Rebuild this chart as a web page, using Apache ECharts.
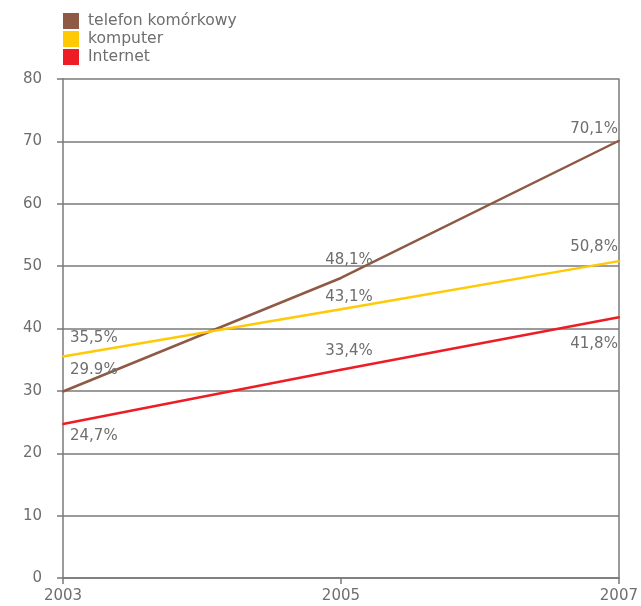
<!DOCTYPE html>
<html>
<head>
<meta charset="utf-8">
<script src="https://cdn.jsdelivr.net/npm/echarts@6/dist/echarts.min.js"></script>
<style>html,body{margin:0;padding:0;background:#fff}#c{width:641px;height:606px}</style>
</head>
<body>
<div id="c"></div>
<script>
const years = ['2003', '2005', '2007'];
const seriesNames = ['telefon komórkowy', 'komputer', 'Internet'];
const phone = [29.9, 48.1, 70.1];
const computer = [35.5, 43.1, 50.8];
const internet = [24.7, 33.4, 41.8];
const phoneLabels = ['29.9%', '48,1%', '70,1%'];
const computerLabels = ['35,5%', '43,1%', '50,8%'];
const internetLabels = ['24,7%', '33,4%', '41,8%'];
const yTicks = [0, 10, 20, 30, 40, 50, 60, 70, 80];

const colors = ['#8e5a45', '#ffc905', '#ee1d25'];
const gray = '#7a7a7a';
const textGray = '#6e6e6e';
const font = 'DejaVu Sans';

const aligns = ['left', 'center', 'right'];
const dxs = [7, 8, -1];
const phoneDy = [-21, -18, -12];
const computerDy = [-18, -12.5, -14.5];
const internetDy = [12, -19, 27];

function mk(values, labels, dys) {
  return values.map((v, i) => ({
    value: v,
    label: {
      show: true,
      formatter: labels[i],
      position: [1 + dxs[i], 1 + dys[i]],
      align: aligns[i],
      verticalAlign: 'middle',
      color: textGray,
      fontFamily: font,
      fontSize: 15
    }
  }));
}

const chart = echarts.init(document.getElementById('c'), null, {renderer: 'canvas'});
chart.setOption({
  animation: false,
  color: colors,
  textStyle: {fontFamily: font},
  legend: {
    orient: 'vertical',
    left: 63, top: 13, padding: 0,
    itemWidth: 16, itemHeight: 16, itemGap: 2,
    icon: 'rect',
    data: seriesNames,
    textStyle: {color: textGray, fontSize: 15.6, fontFamily: font, padding: [0, 0, 0, 4]}
  },
  grid: {left: 63, right: 20, top: 79, bottom: 28, containLabel: false},
  xAxis: {
    type: 'category',
    data: years,
    boundaryGap: false,
    axisLine: {lineStyle: {color: gray, width: 1.5}},
    axisTick: {show: true, length: 6, lineStyle: {color: gray, width: 1.5}},
    axisLabel: {color: textGray, fontSize: 15, fontFamily: font, margin: 11},
    splitLine: {show: false}
  },
  yAxis: [{
    type: 'value', min: yTicks[0], max: yTicks[yTicks.length - 1], interval: 10,
    axisLine: {show: true, lineStyle: {color: gray, width: 1.5}},
    axisTick: {show: true, length: 6, lineStyle: {color: gray, width: 1.5}},
    axisLabel: {color: textGray, fontSize: 15, fontFamily: font, margin: 21},
    splitLine: {show: true, lineStyle: {color: gray, width: 1.5}}
  }, {
    type: 'value', min: yTicks[0], max: yTicks[yTicks.length - 1], interval: 10, position: 'right',
    axisLine: {show: true, lineStyle: {color: gray, width: 1.5}},
    axisTick: {show: false}, axisLabel: {show: false}, splitLine: {show: false}
  }],
  series: [
    {name: seriesNames[0], type: 'line', data: mk(phone, phoneLabels, phoneDy), symbol: 'circle', symbolSize: 2, showSymbol: true, lineStyle: {width: 2.5}, z: 3},
    {name: seriesNames[1], type: 'line', data: mk(computer, computerLabels, computerDy), symbol: 'circle', symbolSize: 2, showSymbol: true, lineStyle: {width: 2.5}, z: 3},
    {name: seriesNames[2], type: 'line', data: mk(internet, internetLabels, internetDy), symbol: 'circle', symbolSize: 2, showSymbol: true, lineStyle: {width: 2.5}, z: 3}
  ]
});
</script>
</body>
</html>
